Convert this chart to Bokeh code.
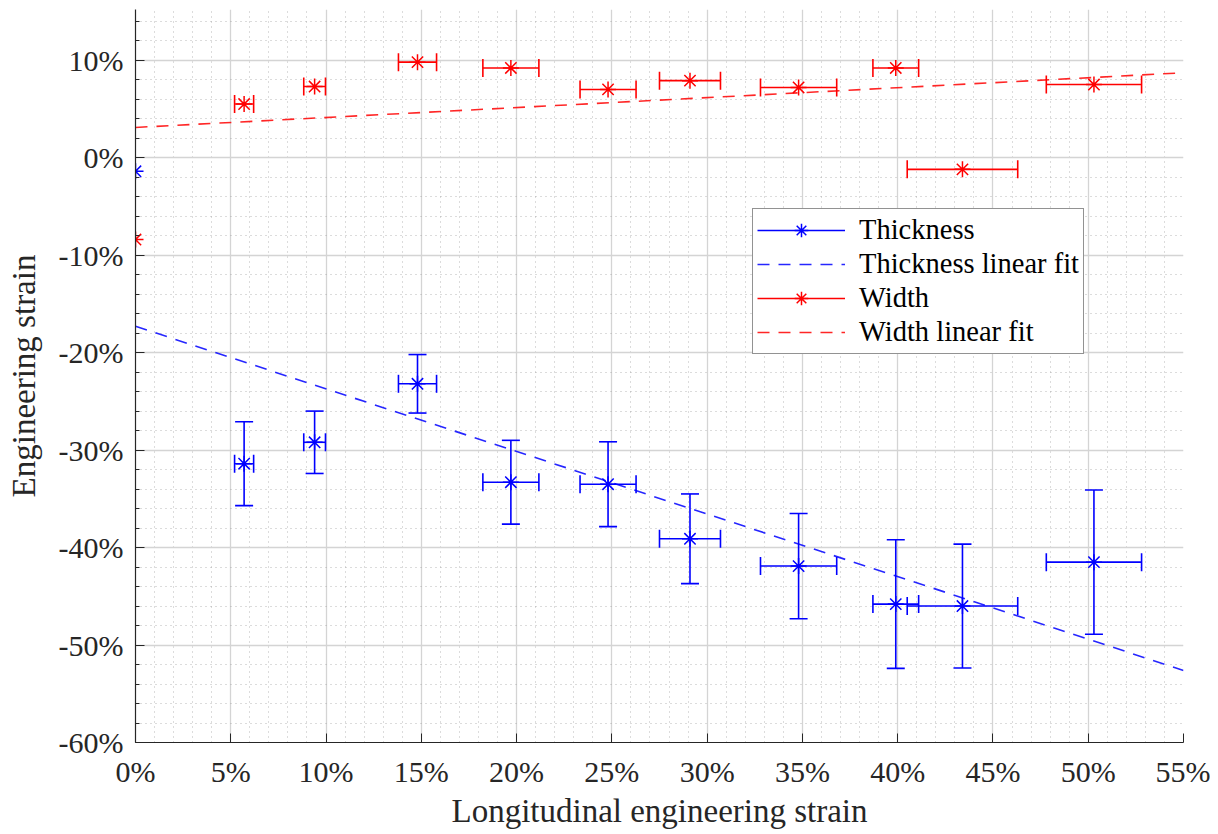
import math
from bokeh.plotting import figure
from bokeh.models import (ColumnDataSource, Range1d, FixedTicker, PrintfTickFormatter,
                          Legend, LegendItem)
from bokeh.embed import file_html
from bokeh.resources import INLINE

# ---------------- data (percent) ----------------
long_strain = [0.0, 5.7, 9.4, 14.8, 19.7, 24.8, 29.1, 34.8, 39.9, 43.4, 50.3]
long_err = [0.0, 0.5, 0.57, 1.0, 1.47, 1.47, 1.6, 2.0, 1.2, 2.9, 2.5]

thick_strain = [-1.4, -31.4, -29.2, -23.2, -33.3, -33.5, -39.1, -41.9, -45.8, -46.0, -41.5]
thick_err = [0.0, 4.3, 3.2, 3.0, 4.3, 4.35, 4.6, 5.4, 6.6, 6.35, 7.4]

width_strain = [-8.4, 5.5, 7.3, 9.8, 9.2, 7.0, 7.9, 7.2, 9.2, -1.2, 7.5]
width_err = [0.0] * 11

thick_fit_intercept, thick_fit_slope = -17.3, -0.642
width_fit_intercept, width_fit_slope = 3.1, 0.102
fit_x = [0.0, 55.0]

x_ticks = list(range(0, 56, 5))
x_minor = list(range(0, 56, 1))
y_ticks = list(range(-60, 11, 10))
y_minor = list(range(-60, 16, 2))

x_label = "Longitudinal engineering strain"
y_label = "Engineering strain"

FONT = "Liberation Serif, Times New Roman, serif"
TXT = "#262626"
BLUE = "#0000ff"
RED = "#ff0000"

p = figure(frame_width=1048, frame_height=733, x_range=Range1d(0, 55), y_range=Range1d(-60, 15.2),
           output_backend="svg", toolbar_location=None,
           min_border_left=135, min_border_right=27, min_border_top=9, min_border_bottom=60)
p.outline_line_color = None
p.background_fill_color = "white"
p.border_fill_color = "white"

xt = FixedTicker(ticks=x_ticks, minor_ticks=x_minor)
yt = FixedTicker(ticks=y_ticks, minor_ticks=y_minor)
p.xaxis.ticker = xt
p.yaxis.ticker = yt
p.xgrid.ticker = xt
p.ygrid.ticker = yt
p.xaxis.formatter = PrintfTickFormatter(format="%d%%")
p.yaxis.formatter = PrintfTickFormatter(format="%d%%")

for ax in (p.xaxis, p.yaxis):
    ax.axis_line_color = TXT
    ax.axis_line_width = 1.2
    ax.major_tick_line_color = TXT
    ax.major_tick_in = 9
    ax.major_tick_out = 0
    ax.major_label_text_font = FONT
    ax.major_label_text_font_size = "30px"
    ax.major_label_text_color = TXT
    ax.axis_label_text_font = FONT
    ax.axis_label_text_font_size = "33px"
    ax.axis_label_text_font_style = "normal"
    ax.axis_label_text_color = TXT
p.xaxis.minor_tick_line_color = None
p.yaxis.minor_tick_line_color = TXT
p.yaxis.minor_tick_in = 4
p.yaxis.minor_tick_out = 0
p.xaxis.major_label_standoff = 8
p.yaxis.major_label_standoff = 12
p.xaxis.axis_label_standoff = 2
p.yaxis.axis_label_standoff = 14
p.xaxis.axis_label = x_label
p.yaxis.axis_label = y_label

for g in (p.xgrid, p.ygrid):
    g.grid_line_color = "#d4d4d4"
    g.grid_line_width = 1.3
    g.minor_grid_line_color = "#9a9a9a"
    g.minor_grid_line_alpha = 0.7
    g.minor_grid_line_dash = "1 4"
    g.minor_grid_line_width = 1


def add_errorbars(xs, xe, ys, ye, color):
    hx0, hx1, hy = [], [], []
    vx, vy0, vy1 = [], [], []
    for x, dx, y, dy in zip(xs, xe, ys, ye):
        if dx > 0:
            hx0.append(x - dx); hx1.append(x + dx); hy.append(y)
        if dy > 0:
            vx.append(x); vy0.append(y - dy); vy1.append(y + dy)
    hsrc = ColumnDataSource(dict(x0=hx0, x1=hx1, y=hy))
    hseg = p.segment(x0="x0", y0="y", x1="x1", y1="y", source=hsrc,
                     line_color=color, line_width=1.6)
    p.scatter(x=hx0 + hx1, y=hy + hy, marker="dash", angle=math.pi / 2, size=18,
              line_color=color, line_width=1.6)
    if vx:
        vsrc = ColumnDataSource(dict(x=vx, y0=vy0, y1=vy1))
        p.segment(x0="x", y0="y0", x1="x", y1="y1", source=vsrc,
                  line_color=color, line_width=1.6)
        p.scatter(x=vx + vx, y=vy0 + vy1, marker="dash", size=18,
                  line_color=color, line_width=1.6)
    return hseg


th_seg = add_errorbars(long_strain, long_err, thick_strain, thick_err, BLUE)
th_pts = p.scatter(x=long_strain, y=thick_strain, marker="asterisk", size=16,
                   line_color=BLUE, line_width=1.5)
th_fit = p.line(x=fit_x, y=[thick_fit_intercept + thick_fit_slope * x for x in fit_x],
                line_color=BLUE, line_width=1.6, line_dash="12 9", line_alpha=0.85)

wd_seg = add_errorbars(long_strain, long_err, width_strain, width_err, RED)
wd_pts = p.scatter(x=long_strain, y=width_strain, marker="asterisk", size=16,
                   line_color=RED, line_width=1.5)
wd_fit = p.line(x=fit_x, y=[width_fit_intercept + width_fit_slope * x for x in fit_x],
                line_color=RED, line_width=1.6, line_dash="12 9", line_alpha=0.85)

legend = Legend(items=[
    LegendItem(label="Thickness", renderers=[th_seg, th_pts]),
    LegendItem(label="Thickness linear fit", renderers=[th_fit]),
    LegendItem(label="Width", renderers=[wd_seg, wd_pts]),
    LegendItem(label="Width linear fit", renderers=[wd_fit]),
], location=(617, 388))
legend.label_text_font = FONT
legend.label_text_font_size = "28.5px"
legend.label_text_color = "black"
legend.glyph_width = 88
legend.glyph_height = 34
legend.label_height = 34
legend.label_standoff = 14
legend.spacing = 0
legend.padding = 4
legend.margin = 0
legend.border_line_color = TXT
legend.border_line_width = 1.2
legend.background_fill_color = "white"
legend.background_fill_alpha = 1.0
p.add_layout(legend)

open("out.html", "w").write(file_html(p, INLINE))
